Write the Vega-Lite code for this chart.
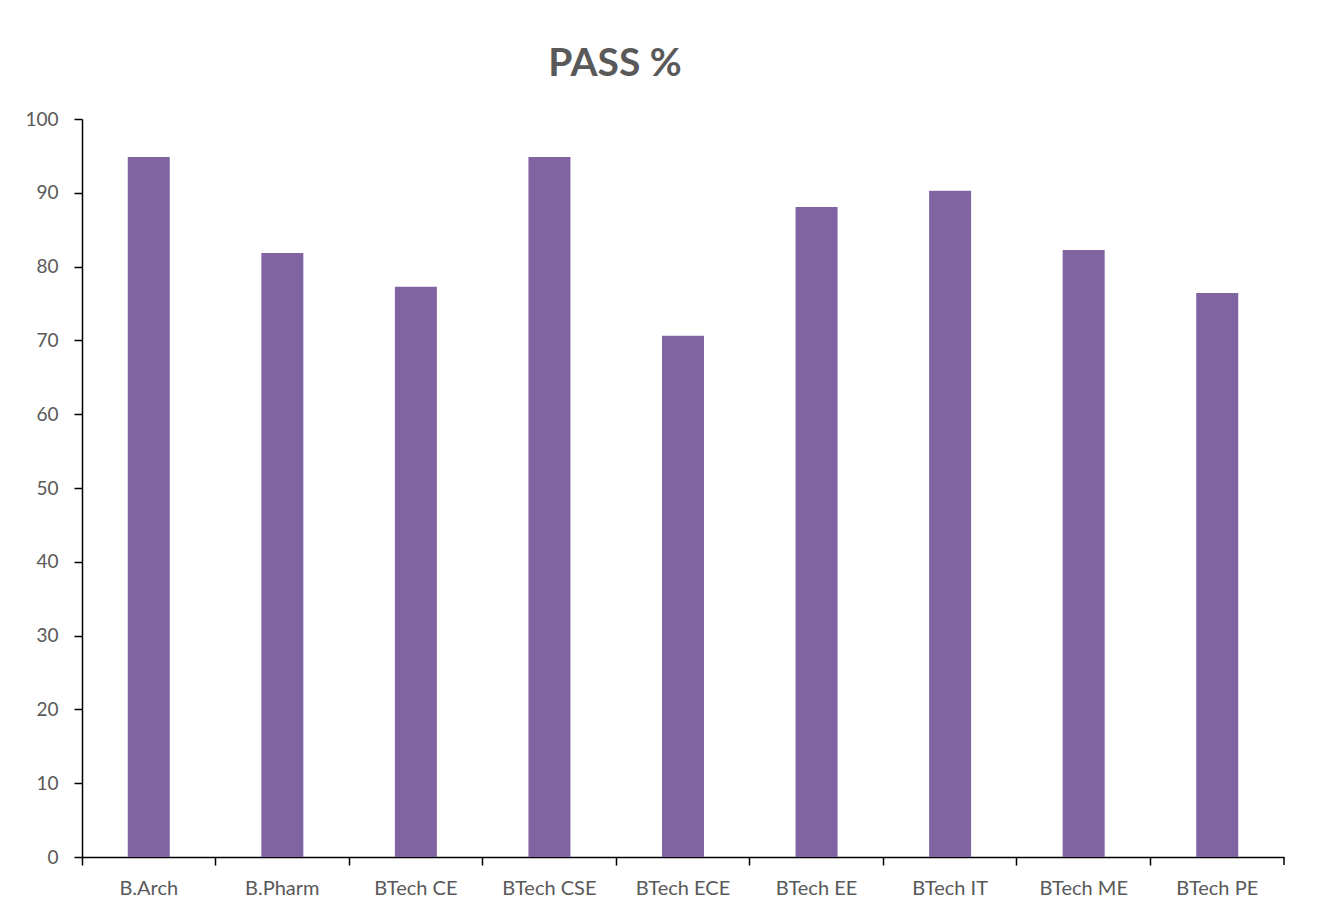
{
  "$schema": "https://vega.github.io/schema/vega-lite/v6.json",
  "autosize": {"type": "none"},
  "width": 1202,
  "height": 738,
  "padding": {"left": 82, "top": 119, "right": 34, "bottom": 58},
  "background": "white",
  "title": {
    "text": "PASS %",
    "font": "Lato",
    "fontSize": 39,
    "fontWeight": "bold",
    "color": "#595959",
    "anchor": "middle",
    "frame": "group",
    "dx": -68,
    "dy": 51,
    "baseline": "alphabetic",
    "offset": 46
  },
  "config": {
    "view": {"stroke": null},
    "axis": {"labelFont": "Lato", "labelColor": "#595959", "grid": false, "domainColor": "#000000", "tickColor": "#000000", "domainWidth": 1.5, "tickWidth": 1.5}
  },
  "data": {
    "values": [
      {"program": "B.Arch", "pass": 94.85},
      {"program": "B.Pharm", "pass": 81.84},
      {"program": "BTech CE", "pass": 77.28},
      {"program": "BTech CSE", "pass": 94.85},
      {"program": "BTech ECE", "pass": 70.64},
      {"program": "BTech EE", "pass": 88.08},
      {"program": "BTech IT", "pass": 90.28},
      {"program": "BTech ME", "pass": 82.25},
      {"program": "BTech PE", "pass": 76.42}
    ]
  },
  "layer": [
    {
      "mark": {"type": "bar", "color": "#8064A2", "width": {"band": 0.3145}},
      "encoding": {
        "x": {
          "field": "program", "type": "nominal", "sort": null,
          "scale": {"paddingInner": 0, "paddingOuter": 0},
          "axis": {"title": null, "labelAngle": 0, "labelFontSize": 20, "ticks": false, "domain": false, "labelPadding": 21}
        },
        "y": {
          "field": "pass", "type": "quantitative",
          "scale": {"domain": [0, 100], "nice": false},
          "axis": {"title": null, "values": [0,10,20,30,40,50,60,70,80,90,100], "labelFontSize": 19, "tickSize": 8, "labelPadding": 16}
        }
      }
    },
    {
      "mark": {"type": "bar", "opacity": 0},
      "encoding": {
        "x": {
          "field": "program", "type": "nominal", "sort": null,
          "axis": {"title": null, "orient": "bottom", "labels": false, "bandPosition": 0, "tickSize": 8}
        },
        "y": {"field": "pass", "type": "quantitative"}
      }
    },
    {
      "data": {"values": [{"program": "BTech PE", "lo": 0, "hi": -1.08}]},
      "mark": {"type": "rule", "color": "#000000", "strokeWidth": 1.5},
      "encoding": {
        "x": {"field": "program", "type": "nominal", "bandPosition": 1, "axis": null},
        "y": {"field": "lo", "type": "quantitative"},
        "y2": {"field": "hi"}
      }
    }
  ],
  "resolve": {"axis": {"x": "independent"}}
}
